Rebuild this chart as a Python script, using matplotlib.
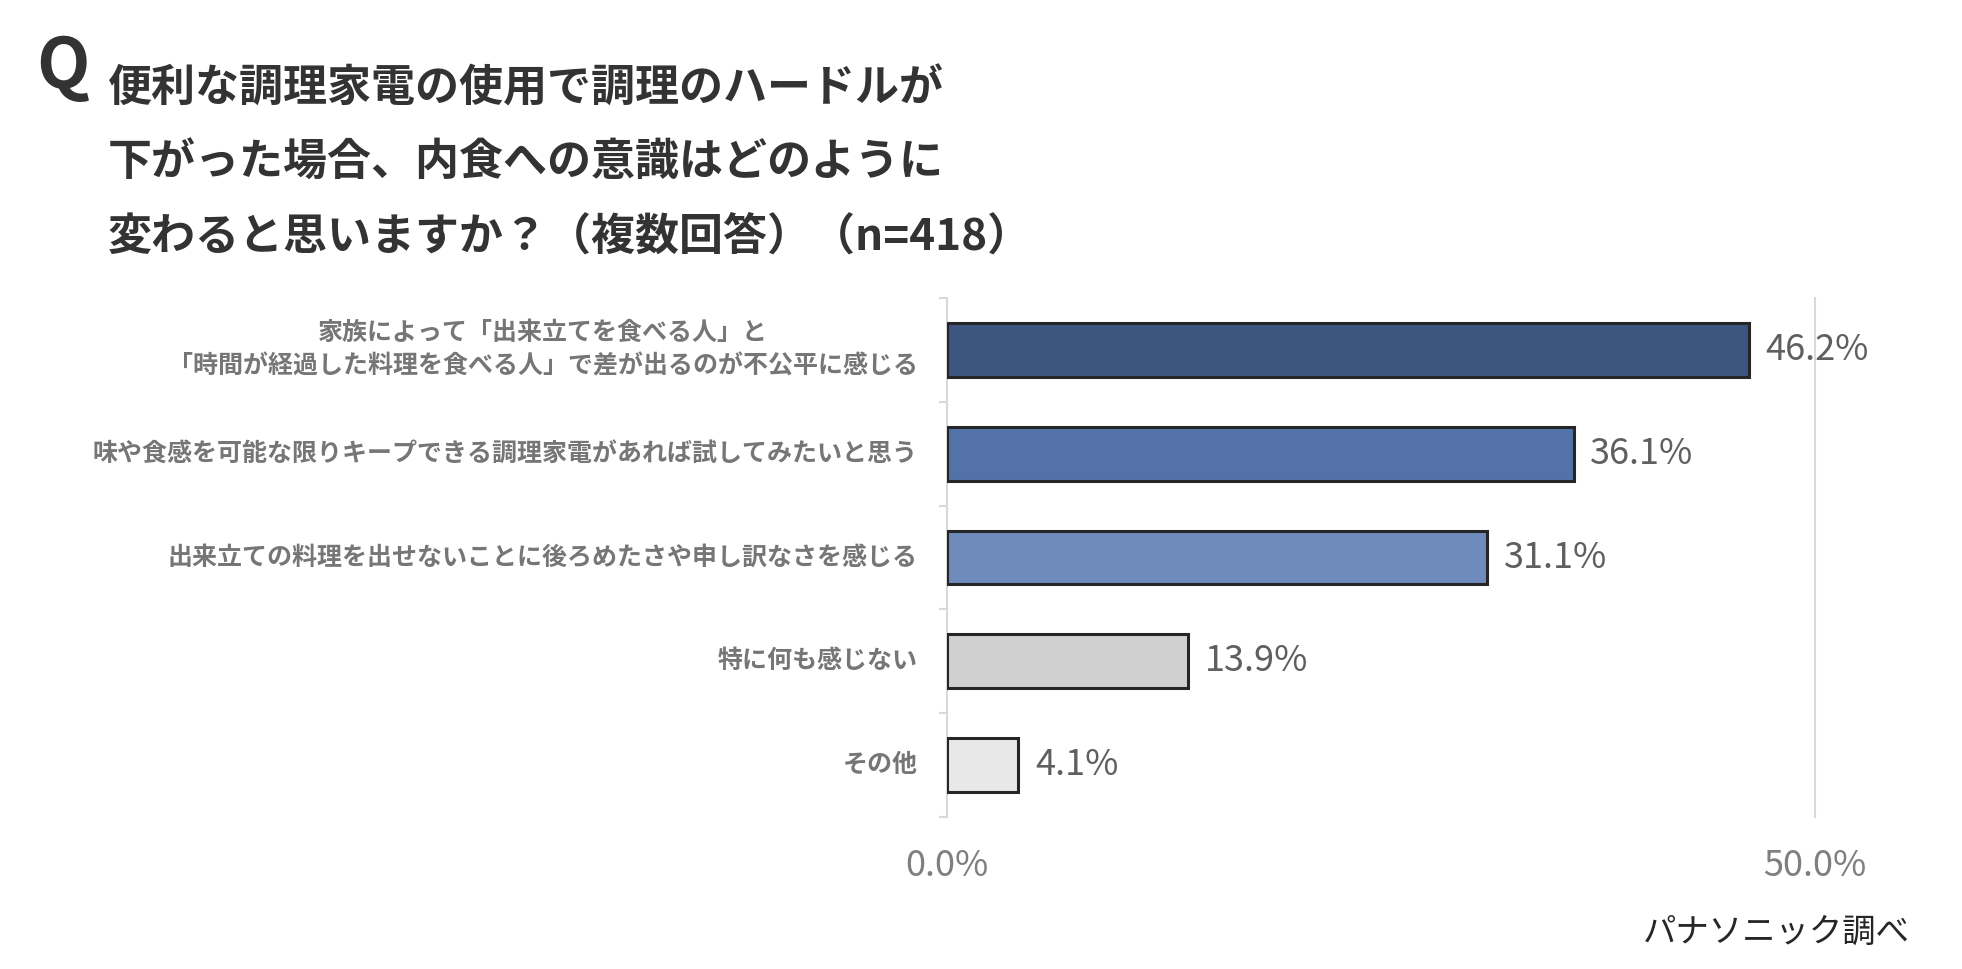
import matplotlib
matplotlib.use("Agg")
import matplotlib.pyplot as plt

plt.rcParams['font.family'] = ['Noto Sans CJK JP', 'DejaVu Sans']

# データ
categories = [
    "家族によって「出来立てを食べる人」と\n「時間が経過した料理を食べる人」で差が出るのが不公平に感じる",
    "味や食感を可能な限りキープできる調理家電があれば試してみたいと思う",
    "出来立ての料理を出せないことに後ろめたさや申し訳なさを感じる",
    "特に何も感じない",
    "その他",
]
values = [46.2, 36.1, 31.1, 13.9, 4.1]
bar_colors = ["#3d5680", "#5272a8", "#6e8bbb", "#d0d0d0", "#e8e8e8"]
x_ticks = [0, 50]
x_tick_labels = ["0.0%", "50.0%"]
title_lines = [
    "便利な調理家電の使用で調理のハードルが",
    "下がった場合、内食への意識はどのように",
    "変わると思いますか？（複数回答）（n=418）",
]
source = "パナソニック調べ"

W, H = 1962, 969
fig = plt.figure(figsize=(W / 100, H / 100), dpi=100)

# 軸の位置 (ピクセルから)
ax_left, ax_right, ax_top, ax_bottom = 947, 1815, 298, 817
ax = fig.add_axes([ax_left / W, 1 - ax_bottom / H,
                   (ax_right - ax_left) / W, (ax_bottom - ax_top) / H])

ypos = list(range(len(categories)))
ax.barh(ypos, values, height=0.52, color=bar_colors,
        edgecolor="#262626", linewidth=2.2, zorder=3)
ax.set_xlim(0, 50)
ax.set_ylim(len(categories) - 0.5, -0.5)

# 目盛りと枠線
for s in ["top", "bottom"]:
    ax.spines[s].set_visible(False)
ax.spines["left"].set_color("#d9d9d9")
ax.spines["left"].set_linewidth(1.5)
ax.spines["right"].set_color("#d9d9d9")
ax.spines["right"].set_linewidth(1.5)

ax.set_yticks([i - 0.5 for i in range(len(categories) + 1)])
ax.set_yticklabels([])
ax.tick_params(axis="y", length=6, width=1.5, color="#d9d9d9", direction="out")

ax.set_xticks(x_ticks)
ax.set_xticklabels(x_tick_labels, fontsize=26, color="#7f7f7f")
ax.tick_params(axis="x", length=0, pad=22)

# カテゴリラベル
for i, label in enumerate(categories):
    ax.annotate(label, xy=(0, i), xycoords=("axes fraction", "data"),
                xytext=(-21, 0), textcoords="offset points",
                ha="right", va="center", multialignment="center",
                fontsize=18, fontweight="bold", color="#767676",
                linespacing=1.5)

# 値ラベル
for i, v in enumerate(values):
    ax.annotate(f"{v:.1f}%", xy=(v, i), xytext=(12, 0),
                textcoords="offset points", ha="left", va="center",
                fontsize=26, color="#5f5f5f", zorder=4)

# タイトル
fig.text(36 / W, 1 - 68 / H, "Q", fontsize=50, fontweight="bold",
         color="#333333", ha="left", va="center")
for k, line in enumerate(title_lines):
    fig.text(108 / W, 1 - (89 + 74 * k) / H, line, fontsize=31.7,
             fontweight="bold", color="#333333", ha="left", va="center")

fig.text(1910 / W, 1 - 932 / H, source, fontsize=24, color="#262626",
         ha="right", va="center")

fig.savefig("out.png", dpi=100, facecolor="white")
